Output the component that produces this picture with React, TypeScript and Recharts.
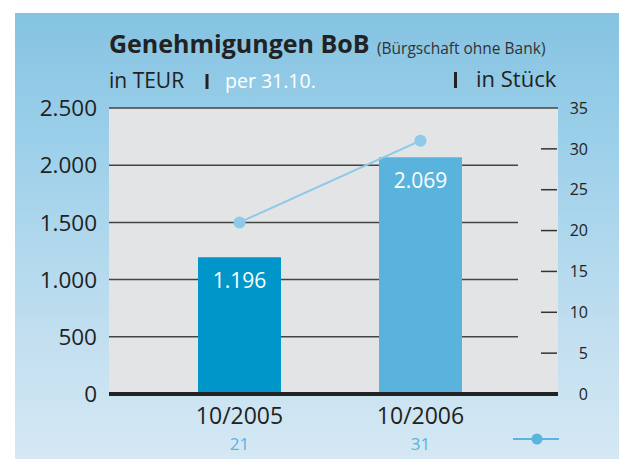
import React from 'react';
import {
  ComposedChart,
  Bar,
  Line,
  XAxis,
  YAxis,
  CartesianGrid,
  ReferenceLine,
  Cell,
  LabelList,
} from 'recharts';

const categories = ['10/2005', '10/2006'];
const volumeTEUR = [1196, 2069];
const countStueck = [21, 31];
const leftTicks = [0, 500, 1000, 1500, 2000, 2500];
const rightTicks = [0, 5, 10, 15, 20, 25, 30, 35];
const barColors = ['#0096c9', '#5ab3dd'];

const data = categories.map((c, i) => ({ cat: c, teur: volumeTEUR[i], stk: countStueck[i] }));

const FONT = '"Open Sans", "DejaVu Sans", sans-serif';
const PLOT_TOP = 108;
const LINE_COLOR = '#8ccae8';

const fmt = (v: number) => String(v).replace(/\B(?=(\d{3})+(?!\d))/g, '.');

const GridLine = (p: any) => {
  const full = Math.abs(p.y1 - PLOT_TOP) < 1.5;
  const x2 = full ? p.x2 : p.x1 + (p.x2 - p.x1) * 0.911;
  return (
    <line key={p.key ?? `g-${p.index}`} x1={p.x1} x2={x2} y1={p.y1} y2={p.y2} stroke="#444" strokeWidth={1.5} />
  );
};

const LeftTick = (p: any) => (
  <text x={p.x - 12} y={p.y} dy="0.36em" textAnchor="end" fontFamily={FONT} fontSize={22.5} fill="#222">
    {fmt(p.payload.value)}
  </text>
);

const RightTick = (p: any) => {
  const v = p.payload.value;
  const showLine = v !== 0 && v !== 35;
  return (
    <g>
      {showLine && <line x1={p.x - 17} x2={p.x - 1} y1={p.y} y2={p.y} stroke="#333" strokeWidth={1.5} />}
      <text x={p.x + 30} y={p.y} dy="0.36em" textAnchor="end" fontFamily={FONT} fontSize={16} fill="#222">
        {v}
      </text>
    </g>
  );
};

const XTick = (p: any) => {
  const i = categories.indexOf(p.payload.value);
  return (
    <g>
      <text x={p.x} y={p.y + 30} textAnchor="middle" fontFamily={FONT} fontSize={23} fill="#222">
        {p.payload.value}
      </text>
      <text x={p.x} y={p.y + 56} textAnchor="middle" fontFamily={FONT} fontSize={17} fill="#5ab4de">
        {countStueck[i]}
      </text>
    </g>
  );
};

const BarValue = (p: any) => (
  <text
    x={p.x + p.width / 2}
    y={p.y + 31}
    textAnchor="middle"
    fontFamily={FONT}
    fontSize={21}
    fill="#ffffff"
  >
    {fmt(p.value)}
  </text>
);

export default function App() {
  return (
    <div style={{ position: 'absolute', left: 0, top: 0, width: 619, height: 459, overflow: 'hidden', background: '#ffffff' }}>
      <div
        style={{
          position: 'absolute',
          left: 15,
          top: 13,
          width: 604,
          height: 446,
          background: 'linear-gradient(to bottom, #85c3e2 0%, #9dd0ea 30%, #c4e0f0 75%, #d5e8f4 100%)',
        }}
      />
      <div style={{ position: 'absolute', left: 0, top: 0 }}>
        <ComposedChart width={619} height={459} data={data} margin={{ top: PLOT_TOP, right: 0, bottom: 15, left: 0 }}>
          <CartesianGrid yAxisId="l" vertical={false} fill="#e3e4e6" horizontal={GridLine} />
          <XAxis
            dataKey="cat"
            axisLine={false}
            tickLine={false}
            tickSize={0}
            tickMargin={0}
            height={50}
            padding={{ left: 40, right: 47 }}
            tick={XTick}
          />
          <YAxis
            yAxisId="l"
            domain={[0, 2500]}
            ticks={leftTicks}
            width={109}
            axisLine={false}
            tickLine={false}
            tickSize={0}
            tickMargin={0}
            tick={LeftTick}
            interval={0}
          />
          <YAxis
            yAxisId="r"
            orientation="right"
            domain={[0, 35]}
            ticks={rightTicks}
            width={61}
            axisLine={false}
            tickLine={false}
            tickSize={0}
            tickMargin={0}
            tick={RightTick}
            interval={0}
          />
          <Bar yAxisId="l" dataKey="teur" barSize={83} isAnimationActive={false}>
            {data.map((d, i) => (
              <Cell key={d.cat} fill={barColors[i]} />
            ))}
            <LabelList dataKey="teur" content={BarValue} />
          </Bar>
          <ReferenceLine yAxisId="l" y={0} stroke="#222" strokeWidth={4} />
          <Line
            yAxisId="r"
            dataKey="stk"
            stroke={LINE_COLOR}
            strokeWidth={2}
            dot={{ r: 6, fill: LINE_COLOR, stroke: 'none' }}
            activeDot={false}
            isAnimationActive={false}
          />
        </ComposedChart>
      </div>
      <svg width={619} height={459} style={{ position: 'absolute', left: 0, top: 0, pointerEvents: 'none' }}>
        <text x={109} y={53} fontFamily={FONT} fontWeight={700} fontSize={25} fill="#222">
          Genehmigungen BoB
        </text>
        <text x={377} y={54} fontFamily={FONT} fontSize={15.5} fill="#333">
          (Bürgschaft ohne Bank)
        </text>
        <text x={109} y={88} fontFamily={FONT} fontSize={21} fill="#222">
          in TEUR
        </text>
        <rect x={205.5} y={74} width={3} height={15} fill="#222" />
        <text x={225} y={88} fontFamily={FONT} fontSize={19.5} fill="#ffffff">
          per 31.10.
        </text>
        <rect x={454} y={72} width={3} height={16} fill="#222" />
        <text x={476} y={87} fontFamily={FONT} fontSize={22} fill="#222">
          in Stück
        </text>
        <g>
          <line x1={513} x2={559} y1={439} y2={439} stroke="#5ab4de" strokeWidth={2} />
          <circle cx={537} cy={439} r={5.5} fill="#5ab4de" />
        </g>
      </svg>
    </div>
  );
}
